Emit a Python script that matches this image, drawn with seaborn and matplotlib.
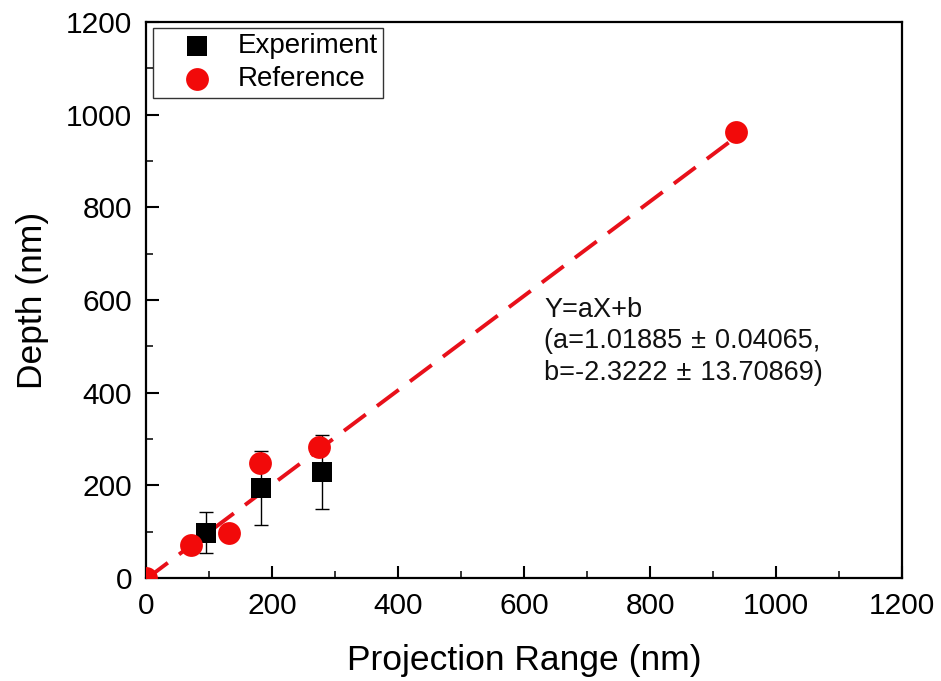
import numpy as np
import pandas as pd
import matplotlib
matplotlib.use("Agg")
import matplotlib.pyplot as plt
from matplotlib.ticker import MultipleLocator
import seaborn as sns

# Measured depth vs. projection range
exp_x = [95, 183, 279]
exp_y = [98, 195, 228]
exp_err = [45, 80, 80]

# Reference values
ref_x = [0, 71, 131, 181, 275, 936]
ref_y = [0, 72, 98, 249, 282, 962]

# Linear fit Y = aX + b
fit_a = 1.01885
fit_b = -2.3222
fit_x = [0, 936]

sns.set_style("ticks")
plt.rcParams["font.family"] = ["Liberation Sans", "DejaVu Sans"]
plt.rcParams["text.color"] = "black"
plt.rcParams["axes.labelcolor"] = "black"

fig = plt.figure(figsize=(9.41, 6.81), dpi=100)
ax = fig.add_axes([0.1552, 0.1512, 0.8034, 0.8164])

fit_df = pd.DataFrame({"x": fit_x, "y": [fit_a * v + fit_b for v in fit_x]})
sns.lineplot(data=fit_df, x="x", y="y", ax=ax, color="#e8101a", lw=2.8,
             dashes=False, legend=False, zorder=2)
ax.lines[-1].set_dashes([7, 3.6])

ax.errorbar(exp_x, exp_y, yerr=exp_err, fmt="none", ecolor="black",
            elinewidth=1.0, capsize=4.7, capthick=1.0, zorder=3)

exp_df = pd.DataFrame({"x": exp_x, "y": exp_y})
ref_df = pd.DataFrame({"x": ref_x, "y": ref_y})
sns.scatterplot(data=exp_df, x="x", y="y", ax=ax, marker="s", s=210,
                color="black", edgecolor="black", linewidth=0,
                label="Experiment", zorder=4)
sns.scatterplot(data=ref_df, x="x", y="y", ax=ax, marker="o", s=270,
                color="#f20a0a", edgecolor="#f20a0a", linewidth=0,
                label="Reference", zorder=5)

ax.set_xlim(0, 1200)
ax.set_ylim(0, 1200)
ax.xaxis.set_major_locator(MultipleLocator(200))
ax.yaxis.set_major_locator(MultipleLocator(200))
ax.xaxis.set_minor_locator(MultipleLocator(100))
ax.yaxis.set_minor_locator(MultipleLocator(100))
ax.tick_params(which="major", direction="in", length=9, width=1.5,
               labelsize=21.5, top=False, right=False, pad=10, colors="black")
ax.tick_params(which="minor", direction="in", length=5, width=1.3,
               top=False, right=False)
for sp in ax.spines.values():
    sp.set_visible(True)
    sp.set_linewidth(1.6)
    sp.set_color("black")

ax.set_xlabel("Projection Range (nm)", fontsize=25.5, labelpad=17, color="black")
ax.set_ylabel("Depth (nm)", fontsize=25.5, labelpad=12, color="black")

ax.text(632, 607,
        "Y=aX+b\n(a=1.01885\u2004\u00b1\u20040.04065,\nb=-2.3222\u2004\u00b1\u200413.70869)",
        fontsize=19.5, va="top", ha="left", linespacing=1.28, color="#111111")

leg = ax.legend(loc="upper left", bbox_to_anchor=(0.009, 0.99),
                fontsize=20, frameon=True, fancybox=False, edgecolor="black",
                borderpad=0.2, handlelength=2.8, handletextpad=0.05,
                labelspacing=0.25, markerscale=1.0, borderaxespad=0.0)
leg.get_frame().set_linewidth(1.0)
for t in leg.get_texts():
    t.set_color("black")

fig.savefig("out.png", dpi=100, facecolor="white")
